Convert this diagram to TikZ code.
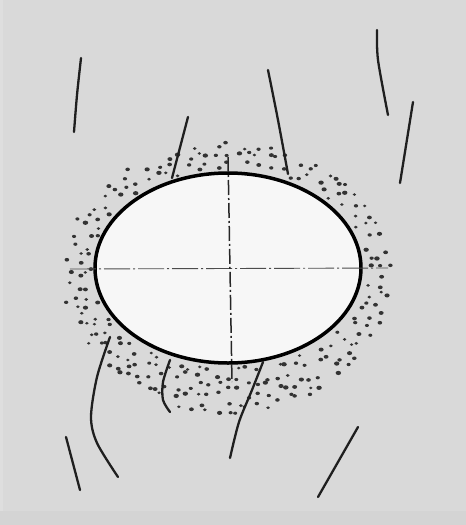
\documentclass[tikz,border=0pt]{standalone}
\begin{document}
\begin{tikzpicture}[x=1pt,y=-1pt,
  fiber/.style={line width=2.3pt,line cap=round,black!88},
  stipple/.style={fill=black!80},
  axisv/.style={line width=1.5pt,black!85,dash pattern=on 15pt off 3pt on 2pt off 3pt},
  axish/.style={line width=0.9pt,black!70,dash pattern=on 26pt off 3pt on 2pt off 3pt}]
% paper
\fill[black!15] (0,0) rectangle (466,525);
\fill[black!13] (0,0) rectangle (3,525);
\fill[black!17] (0,511) rectangle (466,525);
\useasboundingbox (0,0) rectangle (466,525);
% stippled zone around the cavity: jittered grid kept inside a ring
\pgfmathsetseed{4242}
\foreach \gx in {58,68,...,400}{
  \foreach \gy in {136,146,...,424}{
    \pgfmathsetmacro\px{\gx+8*(rnd-0.5)}
    \pgfmathsetmacro\py{\gy+8*(rnd-0.5)}
    \pgfmathsetmacro\dx{\px-228}
    \pgfmathsetmacro\dy{\py-268}
    \pgfmathsetmacro\inner{(\dx/137)^2+(\dy/99)^2}
    \pgfmathsetmacro\ob{\dy>0 ? 145 : 122}
    \pgfmathsetmacro\outer{(\dx/(160+8*rnd))^2+(\dy/(\ob+6*rnd))^2}
    \pgfmathtruncatemacro\keep{(\inner>1)&&(\outer<1)&&(rnd<0.9)}
    \pgfmathsetmacro\r{1.5+0.9*rnd}
    \ifnum\keep=1
      \fill[stipple] (\px,\py) ellipse ({1.15*\r} and {0.9*\r});
    \fi
  }
}
% cavity
\draw[line width=3.5pt,fill=white!97!black] (228,268) ellipse (133 and 95);
% centre lines
\draw[axish] (70,269) -- (388,268);
\draw[axisv] (228,157) -- (232,382);
% fibres
\draw[fiber] plot[smooth] coordinates {(81,58) (77,95) (74,132)};
\draw[fiber] (188,117) -- (172,178);
\draw[fiber] plot[smooth] coordinates {(268,70) (278,120) (288,174)};
\draw[fiber] plot[smooth] coordinates {(377,30) (378,60) (388,115)};
\draw[fiber] (413,102) -- (400,183);
\draw[fiber] plot[smooth] coordinates {(110,337) (97,377) (91,417) (97,443) (118,477)};
\draw[fiber] (66,437) -- (80,490);
\draw[fiber] plot[smooth] coordinates {(170,360) (163,382) (163,400) (170,412)};
\draw[fiber] plot[smooth] coordinates {(263,362) (252,390) (239,422) (230,458)};
\draw[fiber] (358,427) -- (318,497);
\end{tikzpicture}
\end{document}
